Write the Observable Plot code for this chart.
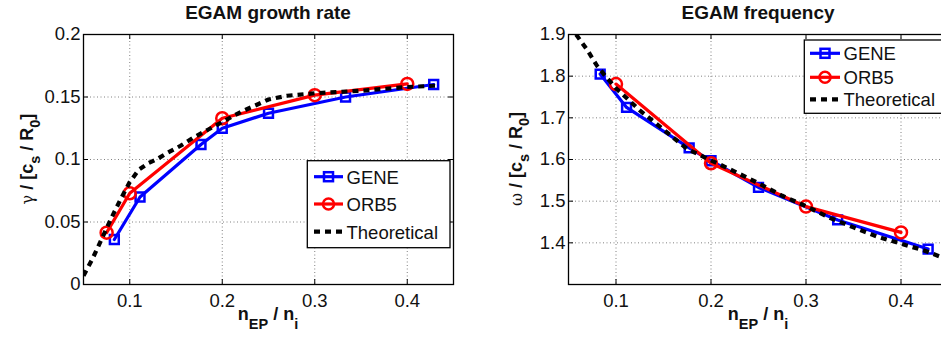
<!DOCTYPE html>
<html><head><meta charset="utf-8">
<script src="https://cdn.jsdelivr.net/npm/d3@7"></script>
<script src="https://cdn.jsdelivr.net/npm/@observablehq/plot@0.6"></script>
<style>
html,body{margin:0;padding:0;overflow:hidden;background:#fff}
#wrap{position:relative;width:941px;height:339px;overflow:hidden}
#left{position:absolute;left:0;top:0;width:470px}
#right{position:absolute;left:470px;top:0;width:495px}
#wrap svg{max-width:none !important}
svg text{font-family:"Liberation Sans",Arial,sans-serif}
</style></head>
<body><div id="wrap"><div id="left"></div><div id="right"></div></div>
<script>
// ---- data ----
const geneX = [1/12, 1/9, 0.177, 0.2, 0.25, 1/3, 3/7];
const geneGrowth = [0.036, 0.070, 0.112, 0.125, 0.137, 0.150, 0.160];
const geneFreq = [1.805, 1.725, 1.628, 1.597, 1.533, 1.455, 1.385];

const orbGrowthX = [0.075, 0.1, 0.2, 0.3, 0.4];
const orbGrowth = [0.0415, 0.073, 0.133, 0.1515, 0.1605];
const orbFreqX = [0.1, 0.2, 0.3, 0.4];
const orbFreq = [1.781, 1.591, 1.487, 1.425];

const theoGrowthX = [0.05,0.06,0.07,0.08,0.09,0.1,0.11,0.12,0.13,0.14,0.155,0.17,0.185,0.2,0.22,0.235,0.25,0.27,0.3,0.35,0.4,0.43];
const theoGrowth = [0.007,0.021,0.037,0.053,0.068,0.082,0.092,0.097,0.1005,0.105,0.111,0.118,0.124,0.13,0.138,0.143,0.148,0.151,0.153,0.155,0.158,0.159];
const theoFreqX = [0.058,0.07,0.08,0.09,0.1,0.11,0.125,0.15,0.175,0.2,0.225,0.25,0.275,0.3,0.325,0.35,0.375,0.4,0.425,0.44];
const theoFreq = [1.9,1.862,1.825,1.797,1.771,1.75,1.718,1.672,1.625,1.598,1.571,1.543,1.513,1.488,1.46,1.437,1.415,1.398,1.381,1.368];

const xTicks = [0.1, 0.2, 0.3, 0.4];
const growthTicks = [0, 0.05, 0.1, 0.15, 0.2];
const growthTickLabels = ["0", "0.05", "0.1", "0.15", "0.2"];
const freqTicks = [1.4, 1.5, 1.6, 1.7, 1.8, 1.9];
const freqTickLabels = ["1.4", "1.5", "1.6", "1.7", "1.8", "1.9"];
const seriesNames = ["GENE", "ORB5", "Theoretical"];

// ---- styles ----
const BLUE = "#0000ff", RED = "#ff0000";
const FS = 18.5;

function zip(xs, ys) { return xs.map((x, i) => ({x, y: ys[i]})); }

function makePlot({width, marginLeft, yDomain, yTicks, yLabels, gene, orb, theo}) {
  const marginTop = 34, marginBottom = 55, marginRight = 17, height = 339;
  const innerW = width - marginLeft - marginRight;
  const innerH = height - marginTop - marginBottom;
  const tl = 5;
  const gridY = yTicks.filter(v => v > yDomain[0] && v < yDomain[1]);
  return Plot.plot({
    width, height, marginLeft, marginRight, marginTop, marginBottom,
    x: {domain: [0.05, 0.45], axis: null},
    y: {domain: yDomain, axis: null},
    style: {fontFamily: '"Liberation Sans", Arial, sans-serif', background: "white", maxWidth: "none"},
    marks: [
      Plot.ruleX(xTicks, {x: d => d, stroke: "#808080", strokeOpacity: 1, strokeWidth: 1, strokeDasharray: "1,2.5"}),
      Plot.ruleY(gridY, {y: d => d, stroke: "#808080", strokeOpacity: 1, strokeWidth: 1, strokeDasharray: "1,2.5"}),
      Plot.line(gene, {x: "x", y: "y", stroke: BLUE, strokeWidth: 3.2}),
      Plot.dot(gene, {x: "x", y: "y", symbol: "square", r: 5, stroke: BLUE, strokeWidth: 2.5, fill: "none"}),
      Plot.line(orb, {x: "x", y: "y", stroke: RED, strokeWidth: 3.2}),
      Plot.dot(orb, {x: "x", y: "y", r: 6, stroke: RED, strokeWidth: 2.5, fill: "none"}),
      Plot.line(theo, {x: "x", y: "y", stroke: "black", strokeWidth: 4.2, strokeDasharray: "6,5", strokeLinecap: "butt", clip: true}),
      // inward ticks on all four sides
      Plot.ruleX(xTicks, {x: d => d, insetTop: innerH - tl, stroke: "black"}),
      Plot.ruleX(xTicks, {x: d => d, insetBottom: innerH - tl, stroke: "black"}),
      Plot.ruleY(yTicks, {y: d => d, insetRight: innerW - tl, stroke: "black"}),
      Plot.ruleY(yTicks, {y: d => d, insetLeft: innerW - tl, stroke: "black"}),
      Plot.frame({stroke: "black", strokeWidth: 1.3}),
      Plot.text(xTicks, {x: d => d, text: d => String(d), frameAnchor: "bottom", lineAnchor: "top", dy: 9, fontSize: FS, fill: "#111"}),
      Plot.text(yTicks, {y: d => d, text: (d, i) => yLabels[i], frameAnchor: "left", textAnchor: "end", dx: -3, fontSize: FS, fill: "#111"})
    ]
  });
}

function addTexts(svg, {title, cx, ySym, yLabelX}) {
  const s = d3.select(svg);
  s.append("text").attr("x", cx).attr("y", 18.5).attr("text-anchor", "middle")
    .attr("font-weight", "bold").attr("font-size", 19).attr("fill", "#111").text(title);
  // x label
  const xl = s.append("text").attr("x", cx).attr("y", 320).attr("text-anchor", "middle")
    .attr("font-weight", "bold").attr("font-size", 18).attr("fill", "#111");
  xl.append("tspan").text("n");
  xl.append("tspan").attr("dy", 9).attr("font-size", 14.5).text("EP");
  xl.append("tspan").attr("dy", -9).text(" / n");
  xl.append("tspan").attr("dy", 9).attr("font-size", 14.5).text("i");
  // y label
  const yl = s.append("text").attr("transform", `translate(${yLabelX},159) rotate(-90)`)
    .attr("text-anchor", "middle").attr("font-size", 18).attr("fill", "#111");
  yl.append("tspan").attr("font-family", '"DejaVu Serif", serif').attr("font-size", 16).text(ySym);
  yl.append("tspan").attr("font-weight", "bold").text(" / [c");
  yl.append("tspan").attr("font-weight", "bold").attr("dy", 7).attr("font-size", 14.5).text("s");
  yl.append("tspan").attr("font-weight", "bold").attr("dy", -7).text(" / R");
  yl.append("tspan").attr("font-weight", "bold").attr("dy", 7).attr("font-size", 14.5).text("0");
  yl.append("tspan").attr("font-weight", "bold").attr("dy", -7).text("]");
}

function addLegend(svg, {x, y, w, h, rowY, lineX1, lineX2, textX}) {
  const s = d3.select(svg);
  const g = s.append("g").attr("text-anchor", "start");
  g.append("rect").attr("x", x).attr("y", y).attr("width", w).attr("height", h)
    .attr("fill", "white").attr("stroke", "black").attr("stroke-width", 1.3);
  const mid = (lineX1 + lineX2) / 2;
  const styles = [
    {stroke: BLUE, dash: null, marker: "square"},
    {stroke: RED, dash: null, marker: "circle"},
    {stroke: "black", dash: "6,5", marker: null}
  ];
  seriesNames.forEach((name, i) => {
    const st = styles[i], yy = rowY[i];
    g.append("line").attr("x1", lineX1).attr("x2", lineX2).attr("y1", yy).attr("y2", yy)
      .attr("stroke", st.stroke).attr("stroke-width", st.dash ? 4.2 : 3.2)
      .attr("stroke-dasharray", st.dash);
    if (st.marker === "square") {
      g.append("rect").attr("x", mid - 4.5).attr("y", yy - 4.5).attr("width", 9).attr("height", 9)
        .attr("fill", "none").attr("stroke", BLUE).attr("stroke-width", 2.5);
    } else if (st.marker === "circle") {
      g.append("circle").attr("cx", mid).attr("cy", yy).attr("r", 5.5)
        .attr("fill", "none").attr("stroke", RED).attr("stroke-width", 2.5);
    }
    g.append("text").attr("x", textX).attr("y", yy + 6.8).attr("text-anchor", "start")
      .attr("font-size", FS).attr("fill", "#111").text(name);
  });
}

// left
const left = makePlot({
  width: 470, marginLeft: 83, yDomain: [0, 0.2], yTicks: growthTicks, yLabels: growthTickLabels,
  gene: zip(geneX, geneGrowth), orb: zip(orbGrowthX, orbGrowth), theo: zip(theoGrowthX, theoGrowth)
});
document.getElementById("left").appendChild(left);
addTexts(left, {title: "EGAM growth rate", cx: 268, ySym: "γ", yLabelX: 33});
addLegend(left, {x: 307.3, y: 160.7, w: 142.7, h: 87, rowY: [176.7, 204, 231.7], lineX1: 314, lineX2: 343, textX: 346.5});

// right
const right = makePlot({
  width: 495, marginLeft: 98, yDomain: [1.3, 1.9], yTicks: freqTicks, yLabels: freqTickLabels,
  gene: zip(geneX, geneFreq), orb: zip(orbFreqX, orbFreq), theo: zip(theoFreqX, theoFreq)
});
document.getElementById("right").appendChild(right);
addTexts(right, {title: "EGAM frequency", cx: 288, ySym: "ω", yLabelX: 52});
addLegend(right, {x: 334.3, y: 40, w: 160, h: 73.3, rowY: [53.3, 77.3, 99.3], lineX1: 340, lineX2: 370, textX: 373.5});
</script>
</body></html>
